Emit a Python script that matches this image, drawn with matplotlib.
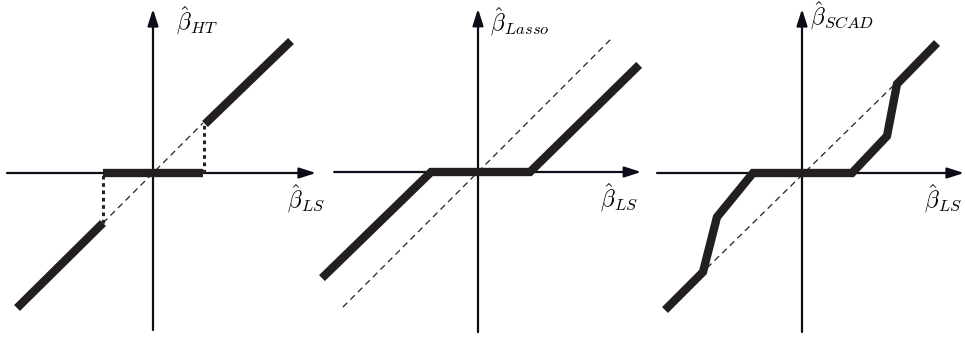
import matplotlib
matplotlib.use('Agg')
import matplotlib.pyplot as plt

plt.rcParams['mathtext.fontset'] = 'cm'

# Thresholding rules, in units of lambda
ht_low_x = [-2.72, -1.0]
ht_low_y = [-2.70, -1.0]
ht_zero_x = [-1.0, 1.0]
ht_zero_y = [0.0, 0.0]
ht_high_x = [1.04, 2.76]
ht_high_y = [0.98, 2.64]
ht_diag = [-1.0, 1.0]

lasso_x = [-3.06, -0.92, 1.02, 3.16]
lasso_y = [-2.08, 0.0, 0.0, 2.10]
lasso_diag = [-2.65, 2.65]

scad_x = [-2.74, -1.98, -1.70, -0.98, 1.00, 1.70, 1.90, 2.70]
scad_y = [-2.74, -1.98, -0.88, 0.0, 0.0, 0.74, 1.78, 2.60]
scad_diag_x = [-1.90, 1.84]
scad_diag_y = [-1.90, 1.76]

labels = [r'$\hat{\beta}_{HT}$', r'$\hat{\beta}_{Lasso}$', r'$\hat{\beta}_{SCAD}$']
xlabel = r'$\hat{\beta}_{LS}$'

W, H = 965, 337
fig = plt.figure(figsize=(W / 100, H / 100), dpi=100)

THICK = dict(color='#231f20', lw=6.0, solid_capstyle='butt', solid_joinstyle='miter',
             zorder=3, clip_on=False)
DASH = dict(color='#222222', lw=0.9, dashes=(5, 3.5), zorder=2)
DOT = dict(color='#222222', lw=2.2, dashes=(1.2, 1.2), zorder=2)


def make_axes(ox, oy, scale, left, right):
    # axes spanning pixel columns [left, right], origin at pixel (ox, oy)
    ax = fig.add_axes([left / W, 0, (right - left) / W, 1])
    ax.set_xlim((left - ox) / scale, (right - ox) / scale)
    ax.set_ylim((oy - H) / scale, oy / scale)
    ax.axis('off')
    return ax


def draw_axes(ax, x0, x1, y0, y1, ylab, xlab_pos, ylab_pos):
    arrow = dict(arrowstyle='-|>,head_length=1.0,head_width=0.32', color='#0d0d1a', lw=1.6,
                 shrinkA=0, shrinkB=0)
    ax.annotate('', xy=(x1, 0), xytext=(x0, 0), arrowprops=arrow, zorder=1)
    ax.annotate('', xy=(0, y1), xytext=(0, y0), arrowprops=arrow, zorder=1)
    ax.text(*xlab_pos, xlabel, fontsize=17, ha='left', va='center')
    ax.text(*ylab_pos, ylab, fontsize=17, ha='left', va='center')


# hard thresholding
ax1 = make_axes(153, 173, 50, 0, 322)
draw_axes(ax1, -2.92, 3.26, -3.14, 3.28, labels[0], (2.68, -0.52), (0.46, 3.04))
ax1.plot(ht_low_x, ht_low_y, **THICK)
ax1.plot(ht_zero_x, ht_zero_y, **THICK)
ax1.plot(ht_high_x, ht_high_y, **THICK)
ax1.plot(ht_diag, ht_diag, **DASH)
ax1.plot([ht_low_x[1]] * 2, [ht_low_y[1], 0], **DOT)
ax1.plot([ht_high_x[0] - 0.02] * 2, [0, ht_high_y[0]], **DOT)

# lasso / soft thresholding
ax2 = make_axes(478, 172, 51, 322, 645)
draw_axes(ax2, -2.82, 3.2, -3.14, 3.2, labels[1], (2.4, -0.5), (0.24, 2.94))
ax2.plot(lasso_x, lasso_y, **THICK)
ax2.plot(lasso_diag, lasso_diag, **DASH)

# SCAD
ax3 = make_axes(802, 173, 50, 645, 965)
draw_axes(ax3, -2.9, 3.24, -3.18, 3.28, labels[2], (2.44, -0.52), (0.16, 3.14))
ax3.plot(scad_x, scad_y, **THICK)
ax3.plot(scad_diag_x, scad_diag_y, **DASH)

fig.savefig('out.png', dpi=100)
